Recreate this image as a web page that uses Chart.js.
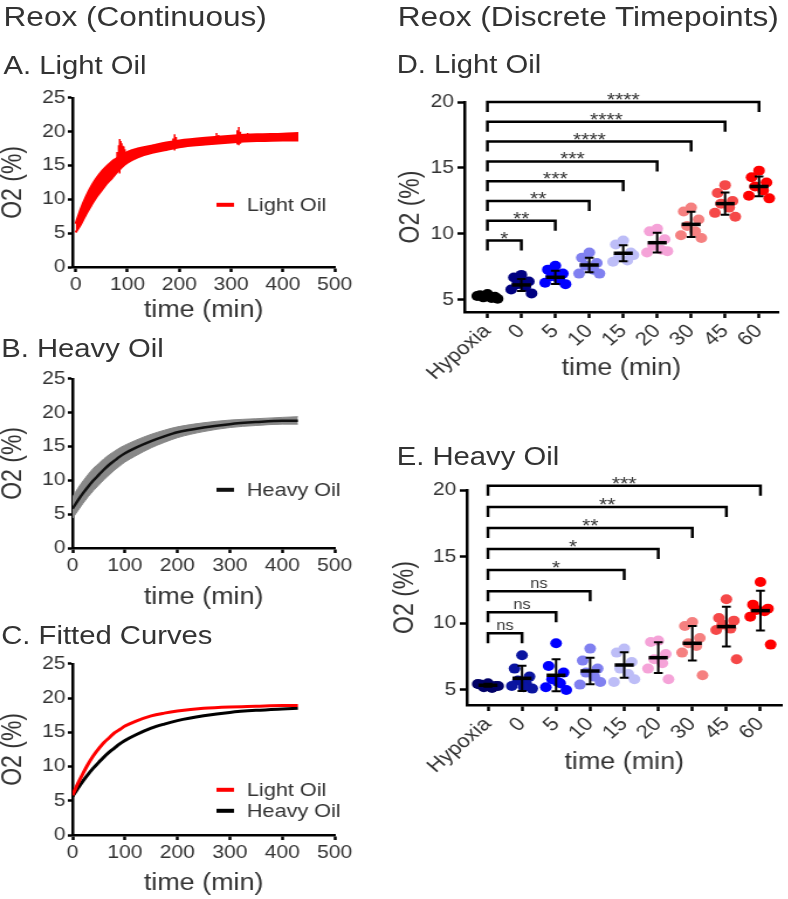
<!DOCTYPE html>
<html>
<head>
<meta charset="utf-8">
<script src="https://cdn.jsdelivr.net/npm/chart.js@4.4.1/dist/chart.umd.min.js"></script>
<style>
  html, body { margin: 0; padding: 0; background: #fff; overflow: hidden; }
  /* the original figure is stretched sideways, so the whole page is too */
  #fig { position: relative; width: 674px; height: 899px; transform: scaleX(1.17); transform-origin: 0 0;
         font-family: "Liberation Sans", Arial, sans-serif; color: #333; }
  .hd { position: absolute; line-height: 1; white-space: nowrap; }
  canvas { position: absolute; }
</style>
</head>
<body>
<div id="fig">
  <div class="hd" style="left:3px;top:4px;font-size:27px">Reox (Continuous)</div>
  <div class="hd" style="left:340px;top:4px;font-size:27px">Reox (Discrete Timepoints)</div>
  <div class="hd" style="left:3px;top:53px;font-size:25px">A. Light Oil</div>
  <div class="hd" style="left:1px;top:336px;font-size:25px">B. Heavy Oil</div>
  <div class="hd" style="left:1px;top:623px;font-size:25px">C. Fitted Curves</div>
  <div class="hd" style="left:339px;top:52px;font-size:25px">D. Light Oil</div>
  <div class="hd" style="left:339px;top:444px;font-size:25px">E. Heavy Oil</div>

  <canvas id="chartA" width="308" height="240" style="left:0;top:85px"></canvas>
  <canvas id="chartB" width="308" height="246" style="left:0;top:366px"></canvas>
  <canvas id="chartC" width="308" height="247" style="left:0;top:651px"></canvas>
  <canvas id="chartD" width="340" height="305" style="left:333px;top:80px"></canvas>
  <canvas id="chartE" width="340" height="311" style="left:333px;top:468px"></canvas>
</div>
<script>
// continuous recordings (min, O2 %)
const timeMin = [0, 10, 20, 30, 40, 50, 60, 70, 80, 90, 100, 120, 150, 175, 200, 250, 300, 350, 400, 430];
const lightUpper = [6.4, 8.6, 10.4, 11.9, 13.1, 14.1, 14.9, 15.6, 16.1, 16.6, 17.0, 17.5, 18.0, 18.4, 18.7, 19.1, 19.4, 19.6, 19.7, 19.8];
const lightLower = [5.1, 6.3, 7.8, 9.1, 10.3, 11.3, 12.3, 13.1, 14.0, 14.8, 15.4, 16.2, 16.9, 17.3, 17.7, 18.1, 18.4, 18.6, 18.7, 18.7];
const spikeTimes = [80, 83, 85, 87, 89, 91, 93, 95, 188, 191, 194, 272, 276, 312, 315, 318, 332];
const spikeTop = [17.0, 18.0, 18.9, 18.6, 18.3, 17.9, 17.8, 17.4, 19.0, 19.6, 19.2, 19.8, 19.5, 20.2, 20.7, 20.0, 19.8];
const spikeBottom = [14.6, 14.2, 13.8, 14.5, 14.9, 15.2, 15.4, 15.6, 17.5, 17.2, 17.6, 18.2, 18.3, 18.1, 18.0, 18.2, 18.6];
const heavyFit = [5.8, 7.0, 8.1, 9.1, 10.0, 10.8, 11.6, 12.3, 12.9, 13.5, 14.0, 14.8, 15.8, 16.5, 17.1, 17.8, 18.3, 18.6, 18.8, 18.8];
const heavyUpper = [7.5, 8.8, 9.9, 10.9, 11.8, 12.5, 13.2, 13.8, 14.3, 14.8, 15.2, 15.9, 16.8, 17.4, 17.9, 18.5, 18.9, 19.1, 19.3, 19.4];
const heavyLower = [4.4, 5.5, 6.6, 7.6, 8.5, 9.3, 10.1, 10.8, 11.5, 12.1, 12.7, 13.6, 14.8, 15.6, 16.3, 17.2, 17.8, 18.1, 18.3, 18.3];
const lightFitC = [5.8, 7.5, 9.0, 10.4, 11.6, 12.6, 13.5, 14.2, 14.9, 15.4, 15.9, 16.6, 17.4, 17.8, 18.1, 18.5, 18.7, 18.8, 18.9, 18.9];
const heavyFitC = [5.6, 6.8, 7.9, 8.9, 9.8, 10.6, 11.4, 12.1, 12.7, 13.3, 13.8, 14.6, 15.6, 16.2, 16.7, 17.4, 17.9, 18.2, 18.4, 18.5];

// discrete timepoints
const timepoints = ['Hypoxia', '0', '5', '10', '15', '20', '30', '45', '60'];
const lightPoints = [
  [5.45, 5.35, 5.25, 5.2, 5.15, 5.3, 5.1],
  [6.9, 6.7, 6.4, 6.2, 6.0, 5.8, 5.5, 6.3],
  [7.6, 7.3, 7.0, 6.8, 6.5, 6.3, 6.2, 6.9],
  [8.6, 8.2, 7.8, 7.6, 7.3, 7.0, 7.0],
  [9.5, 9.2, 8.6, 8.3, 8.0, 7.9, 8.4],
  [10.4, 10.2, 9.6, 9.1, 8.8, 8.6, 8.7],
  [12.0, 11.7, 11.1, 10.6, 10.2, 9.9, 9.7],
  [13.7, 13.1, 12.5, 12.3, 12.0, 11.6, 11.3],
  [14.8, 14.3, 13.9, 13.6, 13.3, 12.9, 12.7]
];
const lightMean = [5.28, 6.14, 6.72, 7.65, 8.54, 9.34, 10.73, 12.3, 13.6];
const lightSD = [0.12, 0.45, 0.5, 0.55, 0.6, 0.75, 0.95, 0.85, 0.75];
const lightSig = ['*', '**', '**', '***', '***', '****', '****', '****'];

const heavyPoints = [
  [5.5, 5.4, 5.3, 5.2, 5.15, 5.45, 5.3],
  [7.6, 6.6, 6.0, 5.7, 5.5, 5.3, 5.1, 5.2],
  [8.5, 6.8, 6.3, 5.8, 5.5, 5.2, 5.0, 5.6],
  [8.1, 7.2, 6.6, 6.3, 6.0, 5.4, 5.6],
  [8.1, 7.8, 7.1, 6.6, 6.2, 5.6, 5.8],
  [8.7, 8.6, 7.7, 7.3, 7.0, 6.6, 5.8],
  [10.1, 9.8, 8.9, 8.5, 8.3, 7.8, 6.1],
  [11.8, 10.4, 10.2, 9.9, 9.6, 9.5, 7.3],
  [13.1, 11.4, 11.1, 11.0, 10.9, 10.5, 8.4]
];
const heavyMean = [5.35, 5.87, 6.1, 6.42, 6.87, 7.42, 8.5, 9.75, 10.95];
const heavySD = [0.12, 0.95, 1.2, 1.0, 0.95, 1.15, 1.3, 1.5, 1.5];
const heavySig = ['ns', 'ns', 'ns', '*', '*', '**', '**', '***'];

const xTicksContinuous = [0, 100, 200, 300, 400, 500];
const yTicksContinuous = [0, 5, 10, 15, 20, 25];
const yTicksDiscrete = [5, 10, 15, 20];

const FONT = '"Liberation Sans", Arial, sans-serif';
const TEXT = '#333';
const lightColors = ['#000000', '#000080', '#0000ff', '#8080f0', '#bdbdf7', '#f5a3d8', '#f58080', '#f54848', '#ff0000'];
const heavyColors = ['#000066', '#0a14a0', '#0000ff', '#8080f0', '#bdbdf7', '#f5a3d8', '#f58080', '#f54848', '#ff0000'];
const jitter = [0, -0.22, 0.22, -0.12, 0.12, -0.3, 0.3, 0.05];

const fixTicks = values => scale => { scale.ticks = values.map(v => ({ value: v })); };
const fixWidth = w => scale => { scale.width = w; };
const fixHeight = h => scale => { scale.height = h; };
const xy = (xs, ys) => xs.map((x, i) => ({ x: x, y: ys[i] }));

// dash + label legend placed inside the plot area
const panelLegend = {
  id: 'panelLegend',
  afterDraw(chart, args, opts) {
    const items = chart.data.datasets.filter(d => d.legendColor);
    if (!items.length) return;
    const { ctx, chartArea } = chart;
    ctx.save();
    ctx.font = '18.5px ' + FONT;
    ctx.textBaseline = 'middle';
    items.forEach((d, k) => {
      const x = chartArea.left + opts.x;
      const y = chartArea.top + opts.y + k * 21;
      ctx.strokeStyle = d.legendColor;
      ctx.lineWidth = 4;
      ctx.beginPath();
      ctx.moveTo(x, y);
      ctx.lineTo(x + 15, y);
      ctx.stroke();
      ctx.fillStyle = TEXT;
      ctx.fillText(d.label, x + 26, y + 1);
    });
    ctx.restore();
  }
};

// mean line with SD whiskers for each group
const meanSd = {
  id: 'meanSd',
  afterDatasetsDraw(chart, args, opts) {
    if (!opts.means) return;
    const { ctx } = chart;
    const x = chart.scales.x, y = chart.scales.y;
    ctx.save();
    ctx.strokeStyle = '#000';
    opts.means.forEach((m, i) => {
      const cx = x.getPixelForValue(i);
      const half = x.getPixelForValue(i + 0.28) - cx;
      const cap = x.getPixelForValue(i + 0.13) - cx;
      const yM = y.getPixelForValue(m);
      const yT = y.getPixelForValue(m + opts.sds[i]);
      const yB = y.getPixelForValue(m - opts.sds[i]);
      ctx.lineWidth = 2;
      ctx.beginPath();
      ctx.moveTo(cx, yT); ctx.lineTo(cx, yB);
      ctx.moveTo(cx - cap, yT); ctx.lineTo(cx + cap, yT);
      ctx.moveTo(cx - cap, yB); ctx.lineTo(cx + cap, yB);
      ctx.stroke();
      ctx.lineWidth = 3.5;
      ctx.beginPath();
      ctx.moveTo(cx - half, yM); ctx.lineTo(cx + half, yM);
      ctx.stroke();
    });
    ctx.restore();
  }
};

// significance brackets from Hypoxia to every later timepoint
const brackets = {
  id: 'brackets',
  afterDatasetsDraw(chart, args, opts) {
    if (!opts.labels) return;
    const { ctx } = chart;
    const x = chart.scales.x, y = chart.scales.y;
    ctx.save();
    ctx.strokeStyle = '#000';
    ctx.lineWidth = 2.5;
    ctx.fillStyle = TEXT;
    ctx.textAlign = 'center';
    ctx.textBaseline = 'alphabetic';
    const x0 = x.getPixelForValue(0);
    opts.labels.forEach((lab, k) => {
      const yy = y.getPixelForValue(opts.base + opts.step * k);
      const x1 = x.getPixelForValue(k + 1);
      ctx.beginPath();
      ctx.moveTo(x0, yy + 10); ctx.lineTo(x0, yy); ctx.lineTo(x1, yy); ctx.lineTo(x1, yy + 10);
      ctx.stroke();
      if (lab === 'ns') {
        ctx.font = '14px ' + FONT;
        ctx.fillText(lab, (x0 + x1) / 2, yy - 3);
      } else {
        ctx.font = '18px ' + FONT;
        ctx.fillText(lab, (x0 + x1) / 2, yy + 4);
      }
    });
    ctx.restore();
  }
};

Chart.register(panelLegend, meanSd, brackets);

function axisLines(tickLength) {
  return {
    grid: { display: true, drawOnChartArea: false, drawTicks: true, tickLength: tickLength, tickWidth: 2.5, tickColor: '#000' },
    border: { display: true, color: '#000', width: 2.5 }
  };
}

function continuousOptions(xMin, xHeight, legendY) {
  return {
    responsive: false,
    devicePixelRatio: 1,
    animation: false,
    layout: { padding: { top: 12, right: 22, left: 0, bottom: 0 } },
    elements: { point: { radius: 0 }, line: { cubicInterpolationMode: 'monotone' } },
    plugins: {
      legend: { display: false },
      tooltip: { enabled: false },
      panelLegend: { x: 123, y: legendY }
    },
    scales: {
      x: {
        type: 'linear', min: xMin, max: 500,
        afterBuildTicks: fixTicks(xTicksContinuous),
        afterFit: fixHeight(xHeight),
        ...axisLines(5),
        ticks: { color: TEXT, font: { family: FONT, size: 18 }, padding: 2, autoSkip: false, maxRotation: 0 },
        title: { display: true, text: 'time (min)', color: TEXT, font: { family: FONT, size: 23, lineHeight: 1.2 }, padding: { top: 0, bottom: 1 } }
      },
      y: {
        min: 0, max: 25,
        afterBuildTicks: fixTicks(yTicksContinuous),
        afterFit: fixWidth(62),
        ...axisLines(4),
        ticks: { color: TEXT, font: { family: FONT, size: 18 }, padding: 2 },
        title: { display: true, text: 'O2 (%)', color: TEXT, font: { family: FONT, size: 23, lineHeight: 1 }, padding: { top: 0, bottom: 0 } }
      }
    }
  };
}

new Chart(document.getElementById('chartA'), {
  type: 'line',
  data: {
    datasets: [
      { label: 'lower', data: xy(timeMin, lightLower), borderColor: '#ff0000', borderWidth: 2, fill: false, order: 1 },
      { label: 'Light Oil', data: xy(timeMin, lightUpper), borderColor: '#ff0000', borderWidth: 2, backgroundColor: '#ff0000', fill: '-1', legendColor: '#ff0000', order: 1 },
      { label: 'spikes', data: spikeTimes.flatMap((t, i) => [{ x: t, y: spikeBottom[i] }, { x: t, y: spikeTop[i] }, { x: t, y: null }]),
        borderColor: '#ff0000', borderWidth: 1.5, spanGaps: false, cubicInterpolationMode: 'default', tension: 0, order: 0 }
    ]
  },
  options: continuousOptions(-6, 58, 107)
});

new Chart(document.getElementById('chartB'), {
  type: 'line',
  data: {
    datasets: [
      { label: 'lower', data: xy(timeMin, heavyLower), borderColor: '#888', borderWidth: 1, fill: false, order: 1 },
      { label: 'upper', data: xy(timeMin, heavyUpper), borderColor: '#888', borderWidth: 1, backgroundColor: '#888', fill: '-1', order: 1 },
      { label: 'Heavy Oil', data: xy(timeMin, heavyFit), borderColor: '#111', borderWidth: 2.5, fill: false, legendColor: '#111', order: 0 }
    ]
  },
  options: continuousOptions(0, 64, 111)
});

new Chart(document.getElementById('chartC'), {
  type: 'line',
  data: {
    datasets: [
      { label: 'Light Oil', data: xy(timeMin, lightFitC), borderColor: '#ff0000', borderWidth: 3, fill: false, legendColor: '#ff0000' },
      { label: 'Heavy Oil', data: xy(timeMin, heavyFitC), borderColor: '#000', borderWidth: 3, fill: false, legendColor: '#000' }
    ]
  },
  options: continuousOptions(0, 63, 126)
});

function discreteChart(id, points, colors, means, sds, sig, cfg) {
  return new Chart(document.getElementById(id), {
    type: 'scatter',
    data: {
      datasets: points.map((vals, i) => ({
        label: timepoints[i],
        data: vals.map((v, j) => ({ x: i + jitter[j % jitter.length], y: v })),
        pointRadius: 5,
        pointBackgroundColor: colors[i],
        pointBorderWidth: 0
      }))
    },
    options: {
      responsive: false,
      devicePixelRatio: 1,
      animation: false,
      layout: { padding: { top: 22, right: cfg.padRight, left: 0, bottom: 0 } },
      plugins: {
        legend: { display: false },
        tooltip: { enabled: false },
        meanSd: { means: means, sds: sds },
        brackets: { labels: sig, base: cfg.base, step: cfg.step }
      },
      scales: {
        x: {
          type: 'linear', min: cfg.xMin, max: cfg.xMax,
          afterBuildTicks: fixTicks(timepoints.map((_, i) => i)),
          afterFit: fixHeight(cfg.xHeight),
          ...axisLines(6),
          ticks: { color: TEXT, font: { family: FONT, size: 19 }, padding: 2, autoSkip: false,
                   minRotation: 45, maxRotation: 45, callback: v => timepoints[v] },
          title: { display: true, text: 'time (min)', color: TEXT, font: { family: FONT, size: 23, lineHeight: 1.2 }, padding: { top: 0, bottom: 3 } }
        },
        y: {
          min: cfg.yMin, max: 20,
          afterBuildTicks: fixTicks(yTicksDiscrete),
          afterFit: fixWidth(cfg.yWidth),
          ...axisLines(6),
          ticks: { color: TEXT, font: { family: FONT, size: 18 }, padding: 3 },
          title: { display: true, text: 'O2 (%)', color: TEXT, font: { family: FONT, size: 23, lineHeight: 1 }, padding: { top: cfg.yTitlePad, bottom: 0 } }
        }
      }
    }
  });
}

discreteChart('chartD', lightPoints, lightColors, lightMean, lightSD, lightSig,
  { xMin: -0.675, xMax: 8.56, yMin: 4.09, yWidth: 64, xHeight: 73, padRight: 8, base: 9.5, step: 1.5, yTitlePad: 7 });
discreteChart('chartE', heavyPoints, heavyColors, heavyMean, heavySD, heavySig,
  { xMin: -0.62, xMax: 8.62, yMin: 3.87, yWidth: 66, xHeight: 74, padRight: 5, base: 9.25, step: 1.58, yTitlePad: 2 });
</script>
</body>
</html>
